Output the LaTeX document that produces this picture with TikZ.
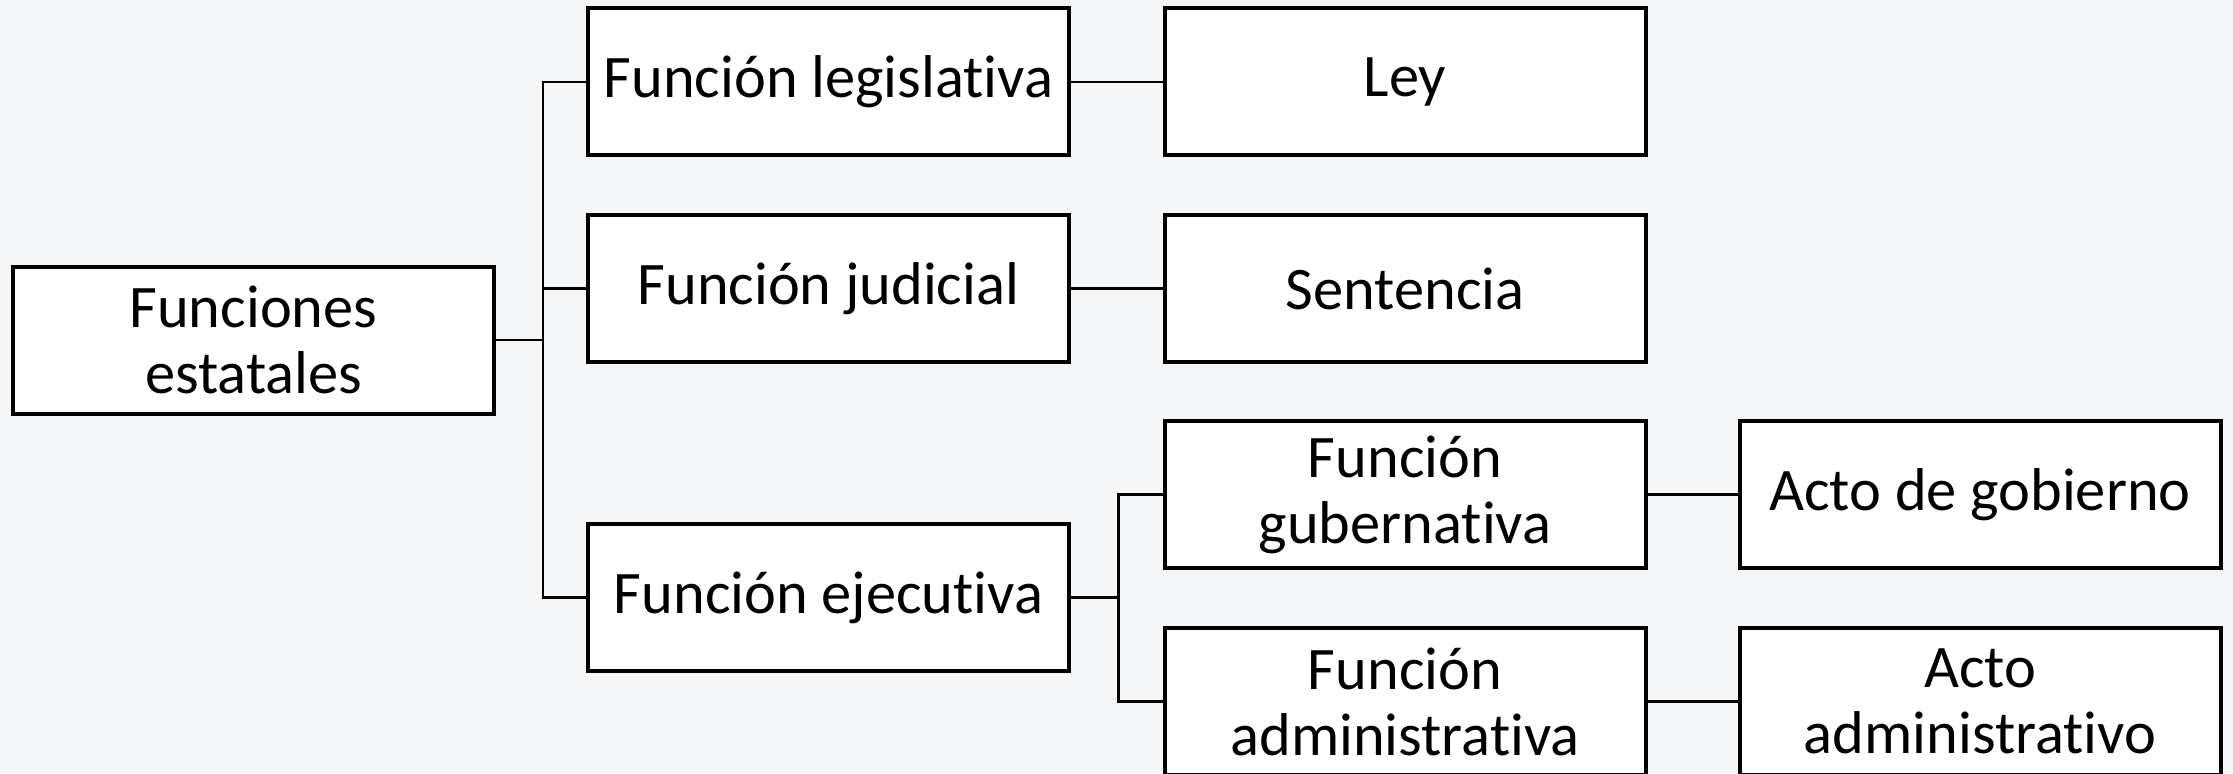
\documentclass[tikz,border=0pt]{standalone}
\usepackage{fontspec}
\setmainfont{Carlito}[Ligatures=NoCommon]
\usetikzlibrary{positioning}

\definecolor{bgcol}{RGB}{244,246,248}

\begin{document}
\begin{tikzpicture}[x=0.5pt, y=0.5pt,
    fbox/.style={draw=black, line width=2pt, fill=white, minimum width=240.5pt,
      minimum height=73.5pt, inner sep=0pt, align=center,
      font=\fontsize{30.2pt}{33pt}\selectfont},
    link/.style={draw=black, line width=1.2pt}]
\useasboundingbox (0,0) rectangle (2233,773);
\fill[bgcol] (0,0) rectangle (2233,773);

\node[fbox] (fe) at (253.5,433) {Funciones\\estatales};
\node[fbox] (leg) at (828.5,691) {Función legislativa};
\node[fbox] (jud) at (828.5,484.5) {Función judicial};
\node[fbox] (eje) at (828.5,175.5) {Función ejecutiva};
\node[fbox] (ley) at (1405,691) {Ley};
\node[fbox] (sen) at (1405,484.5) {Sentencia};
\node[fbox] (gub) at (1405,278.5) {Función\\gubernativa};
\node[fbox] (adm) at (1405,71.5) {Función\\administrativa};
\node[fbox] (gob) at (1980,278.5) {Acto de gobierno};
\node[fbox] (aad) at (1980,71.5) {Acto\\administrativo};

\draw[link] (fe.east) -- ++(47,0) |- (leg.west);
\draw[link] (fe.east) -- ++(47,0) |- (jud.west);
\draw[link] (fe.east) -- ++(47,0) |- (eje.west);
\draw[link] (leg) -- (ley);
\draw[link] (jud) -- (sen);
\draw[link] (eje.east) -- ++(47.5,0) |- (gub.west);
\draw[link] (eje.east) -- ++(47.5,0) |- (adm.west);
\draw[link] (gub) -- (gob);
\draw[link] (adm) -- (aad);
\end{tikzpicture}
\end{document}
